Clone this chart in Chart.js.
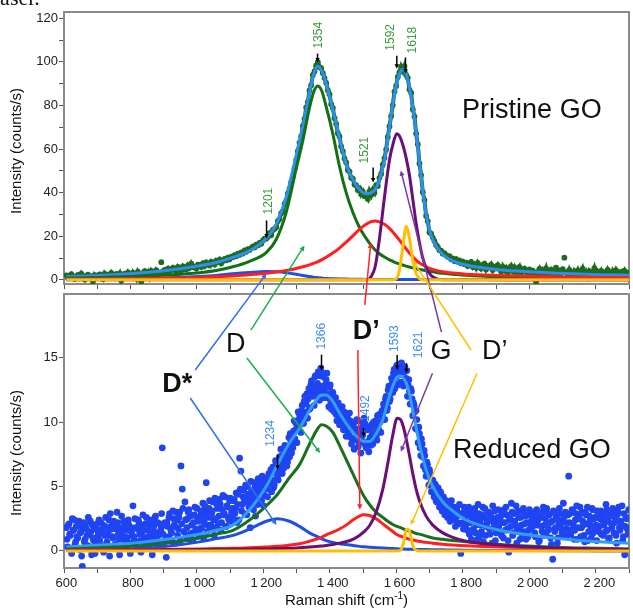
<!DOCTYPE html>
<html>
<head>
<meta charset="utf-8">
<title>Raman spectra, pristine and reduced GO</title>
<script src="https://cdn.jsdelivr.net/npm/chart.js@4.4.1/dist/chart.umd.min.js"></script>
<style>
  html, body { margin: 0; padding: 0; background: #fff; }
  #wrap { position: relative; width: 633px; height: 609px; overflow: hidden; }
  #wrap canvas { position: absolute; left: 0; top: 0; }
</style>
</head>
<body>
<div id="wrap">
  <canvas id="goChart" width="633" height="609"></canvas>
  <canvas id="rgoChart" width="633" height="609"></canvas>
</div>
<script>
// Raman spectra: pristine GO (top panel) and reduced GO (bottom panel)

// measured spectra, one value every goStep / rgoStep cm-1
const goStart = 600, goStep = 5;
const goCounts = [
  2.1, 0.8, 1.9, 2.6, 1.2, 0.4, 1.7, 2.3, 1.0, 2.8, 1.5, 0.2, 1.9, 2.4, 0.9, 1.6, -0.8, 2.2, 1.3, 2.0,
  2.5, 1.1, 0.3, 2.9, 1.8, 2.4, 1.4, 3.2, 2.0, 0.9, 2.6, 1.7, 3.0, -0.3, 2.2, 2.8, 1.6, 3.4, 2.1, 1.2,
  3.3, 2.0, 0.6, 3.8, 2.7, -0.9, 3.1, 4.0, 2.4, 3.6, 1.5, 4.1, 3.0, 2.2, 4.4, 3.5, 2.8, 8.1, 3.9, 4.6,
  4.0, 5.1, 3.6, 4.8, 5.6, 4.4, 3.8, 5.9, 5.0, 4.3, 6.2, 5.3, 4.7, 6.6, 5.5, 7.4, 5.8, 6.1, 5.2, 7.0,
  6.8, 5.9, 7.5, 6.4, 8.0, 7.2, 6.6, 8.4, 7.7, 7.0, 8.8, 8.1, 9.3, 7.6, 8.7, 9.6, 9.0, 10.2, 9.4, 10.6,
  10.4, 11.3, 10.8, 12.0, 11.5, 12.6, 12.1, 13.5, 12.9, 14.1, 13.7, 14.6, 15.4, 14.9, 16.2, 15.8, 17.0, 16.6, 18.1, 18.9,
  18.9, 19.8, 21.4, 20.6, 22.9, 23.4, 24.1, 27.0, 27.9, 30.6, 31.5, 34.8, 36.1, 39.7, 41.8, 44.9, 47.5, 51.2, 55.0, 59.0,
  63.0, 65.8, 70.6, 73.9, 79.1, 81.7, 86.9, 89.3, 94.0, 95.6, 98.4, 99.9, 97.6, 97.1, 94.8, 92.6, 90.4, 87.0, 85.2, 80.6,
  78.9, 74.2, 71.6, 67.3, 65.8, 61.2, 59.0, 55.7, 53.9, 50.4, 49.6, 46.9, 46.4, 43.7, 43.4, 41.2, 42.0, 39.3, 40.5, 38.4,
  38.2, 37.1, 40.6, 38.9, 41.3, 40.0, 43.4, 43.1, 46.8, 48.6, 52.9, 55.9, 59.8, 65.6, 70.4, 75.1, 80.2, 86.4, 89.0, 93.1,
  95.3, 97.8, 96.0, 98.1, 94.0, 92.7, 87.3, 85.9, 78.2, 75.0, 67.1, 62.2, 53.4, 48.1, 40.2, 36.6, 29.3, 26.9, 21.8, 21.2,
  19.4, 17.8, 16.0, 15.1, 13.6, 13.4, 12.0, 12.2, 11.3, 10.6, 10.9, 9.4, 9.8, 8.6, 9.5, 8.3, 8.9, 7.6, 8.4, 7.2,
  7.9, 6.4, 7.5, 8.2, 6.0, 7.1, 5.5, 7.8, 6.6, 5.2, 6.9, 7.4, 4.8, 6.3, 5.7, 7.0, 4.5, 6.0, 5.3, 6.7,
  5.0, 3.8, 6.1, 4.4, 5.5, 3.2, 4.9, 6.3, 4.1, 5.7, 3.5, 4.6, 5.9, 2.8, 4.3, 5.2, 3.9, 1.0, 4.8, 3.4,
  4.2, 2.9, -1.0, 3.6, 5.0, 2.5, 4.4, 3.1, 5.3, 2.2, 3.9, 4.7, 2.7, 3.4, 5.6, 2.0, 4.1, 3.0, 4.9, 10.2,
  3.5, 2.1, 4.6, 2.8, 1.4, 3.9, 2.6, 4.3, 1.8, 3.2, 5.1, 2.4, 3.7, 1.6, 4.0, 2.9, 3.3, 5.4, 2.2, 3.8,
  2.7, 4.1, 1.9, 3.4, 2.5, 4.6, 3.0, 1.7, 3.9, 2.3, 4.4, 2.8, 1.5, 3.6, 2.9, 4.2, 2.0, 3.3, 2.6
];
// reduced GO is noisier: two interleaved runs, starting at 600 and 602
const rgoStartA = 600, rgoStartB = 602, rgoStep = 4;
const rgoCountsA = [
  1.8, 0.3, 2.1, 1.2, -0.2, 1.6, 2.4, 0.7, 1.1, 2.0, 0.1, 1.5, -1.2, 2.2, 0.9, 1.7, 0.4, 1.3, 2.3, -0.3, 1.0, 1.9, 0.6, 2.1, 1.4,
  0.8, 2.2, 1.5, -0.1, 1.9, 0.5, 1.2, 2.4, 2.9, 1.7, 1.0, 2.1, 0.4, 3.0, 1.3, -0.3, 1.8, 0.9, 2.3, 1.1, 0.6, 1.6, 2.0, -0.2, 1.4,
  3.5, 0.9, 1.8, 0.2, 2.4, 1.3, -0.1, 2.0, 1.6, 0.7, 2.6, 1.1, 0.4, 1.9, 2.3, 0.8, 1.5, 2.7, 0.3, 1.2, 2.1, 1.7, 8.0, 0.6, 2.2,
  -0.5, 1.9, 2.6, 0.9, 1.4, 3.1, 2.0, 0.6, 2.4, 1.7, 3.0, 6.6, 4.8, 1.5, 3.8, 1.1, 2.5, 3.2, 1.3, 2.0, 0.9, 2.8, 1.6, 3.3, 2.3,
  1.4, 3.1, 2.6, 1.0, 3.5, 5.3, 2.0, 3.3, 1.7, 2.9, 3.8, 1.2, 2.5, 3.6, 2.1, 4.0, 1.6, 3.2, 2.8, 4.2, 1.9, 3.4, 2.4, 4.1, 3.0,
  2.6, 4.0, 3.3, 2.2, 4.4, 7.2, 6.2, 3.6, 4.7, 2.9, 4.1, 5.0, 3.4, 1.8, 4.6, 3.9, 5.3, 2.7, 4.3, 5.6, 3.8, 4.9, 5.8, 3.5, 5.2,
  5.6, 4.2, 6.0, 5.9, 4.6, 6.5, 5.1, 7.0, 6.2, 5.5, 7.3, 7.9, 6.0, 6.4, 8.2, 7.4, 6.9, 8.8, 9.1, 7.6, 8.0, 10.1, 9.4, 8.4, 10.8,
  10.6, 9.2, 11.3, 9.9, 12.0, 11.4, 10.3, 12.6, 11.1, 13.2, 12.0, 11.3, 13.6, 12.4, 13.9, 11.7, 14.2, 12.8, 13.5, 11.9, 13.3, 12.2, 11.2, 12.9, 11.0,
  12.3, 10.8, 11.9, 10.1, 11.5, 9.8, 10.9, 11.2, 9.4, 10.5, 8.9, 10.3, 9.0, 10.1, 8.3, 9.7, 7.9, 9.5, 10.2, 8.1, 9.3, 7.6, 9.6, 8.4, 9.9,
  8.0, 9.4, 7.7, 8.8, 9.8, 8.3, 9.2, 10.1, 8.6, 9.9, 10.6, 9.2, 10.9, 11.4, 10.2, 12.0, 11.1, 12.8, 11.8, 13.4, 12.3, 14.1, 13.0, 14.4, 12.9,
  14.5, 13.1, 14.0, 12.8, 14.3, 13.4, 12.0, 13.3, 11.4, 12.4, 10.5, 11.3, 9.5, 10.2, 8.4, 9.1, 7.4, 8.3, 6.6, 7.4, 5.8, 6.7, 5.1, 6.0, 4.6,
  5.5, 4.2, 5.1, 3.8, 4.9, 3.4, 4.5, 3.1, 4.2, 2.8, 3.9, 2.6, 3.7, 2.3, 3.9, 2.5, 3.4, 1.9, 3.2, 2.2, 3.6, -0.2, 2.9, 1.7, 3.1,
  2.9, 1.6, 3.4, 2.2, 0.9, 2.7, 3.1, 1.4, 2.5, 3.6, 1.1, 2.0, 2.8, 0.7, 3.3, 1.9, 2.4, 3.0, 1.3, 2.6, 3.5, 1.8, 0.8, 2.3, 3.2,
  1.5, 2.7, 3.0, 1.0, 2.2, 3.4, 1.7, -0.1, 2.5, 3.7, 1.2, 2.9, 2.0, 0.6, 3.1, 1.8, 2.6, 1.3, 3.3, 2.1, 0.9, 2.8, 1.6, 3.0, 2.3,
  1.9, 2.8, 1.1, 3.2, 2.4, 0.8, 2.6, 1.5, 3.4, 2.0, 1.3, 2.9, 1.7, 2.2, 0.5, -0.65, 3.0, 1.8, 2.5, 1.0, 3.3, 2.1, 1.4, 3.7, 2.7,
  2.2, 1.2, 5.8, 2.9, 1.6, 3.1, 0.9, 2.4, 3.5, 1.8, 2.6, 1.1, 3.0, 2.0, 0.7, 2.8, 3.4, 1.5, 2.3, 1.0, 3.2, 2.5, 1.7, 0.8, 2.9,
  1.9, 3.1, 2.4, 1.2, 2.7, 3.6, 1.6, 0.9, 2.8, 2.1, 3.3, 1.4, 2.5, 0.6, 3.0, 1.8, 2.3, 3.5, 1.1, -0.3, 2.6, 1.7, 3.2
];
const rgoCountsB = [
  0.9, 2.0, 1.3, 0.2, 2.5, 1.6, 0.5, 1.9, 1.0, 2.3, 1.4, -0.4, 1.8, 0.7, 2.1, 1.2, 2.6, 0.3, 1.5, 2.0, 0.8, -0.2, 1.7, 1.1, 2.4,
  1.6, 0.4, 2.0, 1.2, 2.6, 0.7, 1.5, -0.4, 1.9, 1.1, 2.3, 0.5, 1.7, 2.2, 0.9, 1.4, 2.7, 0.2, 1.6, 2.0, 1.0, 2.4, 0.6, 1.8, 1.2,
  1.1, 2.5, 0.5, 1.7, 2.2, 0.8, 1.4, 2.8, 1.0, 2.1, 0.3, 1.6, 2.4, 1.2, -0.3, 1.9, 2.6, 1.0, 2.2, 0.6, 1.5, 2.9, 1.3, 2.0, 0.9,
  2.2, 1.1, 2.9, 1.6, 0.7, 2.5, 1.9, 3.0, 1.2, 2.6, 0.8, 2.1, 3.3, 1.5, 2.4, 1.8, 3.0, 0.9, 2.7, 1.4, 2.2, 3.4, 1.7, 2.5, 1.2,
  2.7, 1.8, 3.7, 2.2, 3.0, 1.5, 2.6, 3.9, 2.0, 3.1, 2.4, 4.1, 1.8, 3.3, 2.7, 3.6, 2.2, 4.3, 2.9, 1.9, 3.5, 2.6, 3.9, 2.3, 3.3,
  3.9, 2.9, 4.5, 3.6, 2.4, 4.8, 3.1, 4.2, 3.8, 5.1, 2.8, 4.4, 3.7, 5.4, 4.1, 3.2, 4.9, 4.5, 3.6, 5.2, 4.6, 3.9, 5.5, 4.3, 5.0,
  4.8, 5.7, 5.2, 6.3, 5.5, 4.9, 6.1, 6.8, 5.8, 6.6, 6.1, 7.4, 6.8, 7.0, 7.7, 6.6, 8.0, 7.3, 8.5, 8.3, 9.3, 8.7, 9.9, 9.6, 10.2,
  9.8, 10.9, 10.4, 11.6, 10.8, 12.2, 11.8, 11.0, 12.9, 12.3, 12.7, 13.5, 12.0, 13.0, 12.6, 13.6, 12.3, 13.8, 12.5, 12.9, 13.8, 11.9, 12.7, 11.6, 12.2,
  11.4, 11.9, 10.6, 11.1, 10.4, 10.9, 10.0, 9.7, 10.8, 9.5, 10.0, 9.3, 10.7, 8.8, 9.9, 8.6, 10.0, 8.8, 9.2, 8.5, 10.1, 8.8, 9.0, 10.3, 8.2,
  9.6, 8.5, 9.5, 8.2, 9.0, 10.0, 9.7, 8.9, 10.5, 9.4, 10.0, 10.7, 10.4, 11.2, 11.8, 10.9, 12.5, 11.6, 12.5, 13.0, 13.8, 12.6, 13.5, 13.9, 14.2,
  13.7, 14.6, 13.0, 13.9, 12.9, 14.0, 12.9, 12.4, 12.6, 11.8, 11.5, 10.8, 10.9, 9.4, 9.6, 8.0, 8.7, 7.3, 7.8, 6.3, 6.9, 5.8, 6.3, 5.3, 5.4,
  4.6, 5.2, 3.9, 4.4, 4.0, 4.6, 3.5, 3.9, 3.2, 3.6, 2.9, 3.4, 3.1, 3.5, 2.7, 3.0, 2.4, 3.3, 2.7, 2.1, 2.9, 2.8, 2.2, 3.4, 2.4,
  2.1, 2.8, 1.3, 3.0, 2.4, 1.7, 3.3, 2.0, 0.9, 2.9, 2.3, 1.5, 3.4, 2.6, 1.2, 2.1, 3.0, 1.7, 2.7, 0.6, 2.2, 3.1, 1.4, 2.6, 1.9,
  2.6, 1.2, 2.2, 3.2, 1.6, 2.8, 0.8, 2.4, 1.9, 3.0, 1.4, 2.3, 3.5, 1.7, 2.6, 0.9, 2.0, 3.1, 1.5, 2.7, 2.2, 1.1, 3.2, 1.8, 2.5,
  2.4, 1.4, 3.1, 2.0, 0.7, 2.7, 1.9, 3.0, 1.2, 2.5, 3.3, 1.6, 2.8, 1.0, 2.3, 3.1, 1.5, 2.6, 0.6, 2.1, 2.9, 1.7, 2.4, 1.1, 3.0,
  1.7, 2.8, 2.2, 1.3, 3.2, 2.0, 1.6, 2.9, 0.9, 2.5, 3.4, 1.8, 2.3, 1.2, 3.0, 2.1, 0.8, 2.7, 1.9, 3.3, 1.4, 2.6, 2.0, 3.1, 1.5,
  2.5, 1.3, 2.9, 2.0, 1.5, 3.2, 2.3, 1.0, 2.7, 1.8, 3.0, 2.2, 1.2, 2.8, 3.4, 1.6, 2.1, 0.8, 2.9, 1.9, 2.5, 1.3
];

// fitted curves, pristine GO
const goX = [600, 700, 800, 900, 1000, 1050, 1100, 1150, 1200, 1230,
  1260, 1290, 1310, 1330, 1342, 1354, 1366, 1380, 1400, 1420,
  1440, 1460, 1480, 1500, 1515, 1527, 1540, 1555, 1570, 1580,
  1592, 1600, 1610, 1620, 1630, 1640, 1650, 1660, 1670, 1680,
  1695, 1710, 1730, 1760, 1800, 1900, 2000, 2100, 2200, 2290];
const goFit = [1.5, 2.0, 2.9, 4.3, 6.5, 8.0, 10.3, 13.3, 19, 25.5,
  38, 57, 70.5, 86, 94, 98, 96, 90, 78, 65,
  53, 46, 41.5, 39.5, 40, 41.5, 46, 55, 70, 80.7,
  90.5, 94.5, 96.5, 94.5, 88, 79, 68, 54, 41, 30,
  20.3, 15.5, 11.6, 8.7, 6.8, 4.6, 3.6, 2.9, 2.4, 2.1];
const goD = [0.8, 1.1, 1.5, 2.2, 3.3, 4.3, 6.0, 8.5, 12.5, 18.5,
  31, 51, 64, 79, 86, 89, 87, 79.5, 67, 52,
  40, 31, 24, 19, 15.8, 13.7, 12, 10.5, 9.2, 8.5,
  7.7, 7.3, 6.8, 6.3, 5.9, 5.5, 5.1, 4.8, 4.5, 4.2,
  3.8, 3.4, 3.0, 2.6, 2.1, 1.4, 1.0, 0.8, 0.6, 0.5];
const goDpp = [0.3, 0.4, 0.6, 0.8, 1.1, 1.4, 1.8, 2.3, 3.0, 3.6,
  4.3, 5.2, 6.0, 6.9, 7.6, 8.3, 9.2, 10.4, 12.3, 14.6,
  17.3, 20.2, 23.2, 25.5, 26.7, 27.0, 26.6, 25.5, 23.6, 22.0,
  19.8, 18.2, 16.2, 14.2, 12.3, 10.6, 9.1, 7.8, 6.8, 6.0,
  5.0, 4.3, 3.7, 3.1, 2.6, 2.0, 1.6, 1.3, 1.1, 1.0];
const goG = [0, 0, 0, 0, 0, 0, 0, 0, 0, 0,
  0, 0, 0, 0, 0, 0, 0, 0, 0, 0,
  0, 0, 0, 0, 1.5, 6, 19, 38, 55, 62,
  67, 66, 62, 56, 48, 37, 26, 17, 10, 5.5,
  2, 0.6, 0, 0, 0, 0, 0, 0, 0, 0];
const goDp = [0, 0, 0, 0, 0, 0, 0, 0, 0, 0,
  0, 0, 0, 0, 0, 0, 0, 0, 0, 0,
  0, 0, 0, 0, 0, 0, 0, 0, 0, 0,
  0.8, 4.5, 15, 24.5, 19, 9, 2.8, 0.6, 0, 0,
  0, 0, 0, 0, 0, 0, 0, 0, 0, 0];
const goDs = [0.3, 0.4, 0.6, 0.9, 1.5, 2.0, 2.8, 3.4, 3.8, 3.7,
  3.3, 2.6, 2.0, 1.5, 1.2, 1.0, 0.8, 0.6, 0.5, 0.4,
  0.35, 0.3, 0.25, 0.2, 0.2, 0.2, 0.2, 0.2, 0.2, 0.2,
  0.2, 0.2, 0.2, 0.2, 0.2, 0.2, 0.2, 0.2, 0.2, 0.2,
  0.2, 0.2, 0.2, 0.2, 0.2, 0.1, 0.1, 0.1, 0.1, 0.1];

// fitted curves, reduced GO
const rgoX = [600, 700, 800, 900, 1000, 1050, 1100, 1150, 1200, 1234,
  1270, 1300, 1330, 1350, 1366, 1380, 1400, 1420, 1440, 1460,
  1480, 1492, 1510, 1530, 1550, 1565, 1580, 1593, 1603, 1612,
  1621, 1630, 1640, 1650, 1660, 1680, 1700, 1730, 1760, 1800,
  1900, 2000, 2100, 2200, 2290];
const rgoFit = [0.3, 0.45, 0.6, 0.9, 1.3, 1.6, 2.0, 3.2, 5.0, 6.7,
  8.4, 9.5, 10.9, 11.7, 12.1, 12.1, 11.6, 10.7, 9.9, 9.2,
  8.7, 8.5, 8.5, 9.1, 10.2, 11.6, 12.8, 13.5, 13.6, 13.4,
  13.0, 12.2, 10.9, 9.6, 8.3, 6.3, 5.0, 3.8, 3.1, 2.4,
  1.6, 1.2, 0.9, 0.7, 0.6];
const rgoD = [0.15, 0.25, 0.35, 0.6, 1.0, 1.3, 1.6, 2.4, 3.5, 4.4,
  5.7, 6.7, 8.3, 9.3, 9.8, 9.7, 9.2, 8.2, 7.1, 6.0,
  4.9, 4.3, 3.6, 3.0, 2.6, 2.3, 2.05, 1.9, 1.8, 1.7,
  1.6, 1.55, 1.45, 1.35, 1.3, 1.15, 1.0, 0.9, 0.8, 0.7,
  0.5, 0.35, 0.25, 0.2, 0.15];
const rgoDpp = [0.05, 0.08, 0.1, 0.12, 0.15, 0.18, 0.2, 0.25, 0.3, 0.35,
  0.45, 0.55, 0.75, 0.9, 1.05, 1.25, 1.45, 1.7, 2.0, 2.4,
  2.7, 2.8, 2.75, 2.5, 2.1, 1.8, 1.5, 1.25, 1.15, 1.05,
  0.97, 0.9, 0.84, 0.78, 0.74, 0.66, 0.6, 0.52, 0.46, 0.4,
  0.3, 0.25, 0.2, 0.15, 0.1];
const rgoG = [0.05, 0.05, 0.06, 0.08, 0.1, 0.11, 0.12, 0.14, 0.15, 0.18,
  0.2, 0.25, 0.3, 0.34, 0.38, 0.42, 0.5, 0.6, 0.72, 0.9,
  1.2, 1.45, 1.95, 3.0, 4.8, 6.8, 9.0, 10.3, 10.2, 9.6,
  8.6, 7.4, 6.0, 4.8, 3.9, 2.7, 2.0, 1.4, 1.05, 0.75,
  0.45, 0.3, 0.2, 0.15, 0.1];
const rgoDp = [0, 0, 0, 0, 0, 0, 0, 0, 0, 0,
  0, 0, 0, 0, 0, 0, 0, 0, 0, 0,
  0, 0, 0, 0, 0, 0, 0, 0, 0.05, 0.6,
  1.7, 1.55, 0.4, 0.05, 0, 0, 0, 0, 0, 0,
  0, 0, 0, 0, 0];
const rgoDs = [0.02, 0.08, 0.15, 0.35, 0.7, 0.95, 1.2, 1.7, 2.3, 2.5,
  2.3, 1.9, 1.4, 1.15, 0.95, 0.8, 0.65, 0.55, 0.5, 0.42,
  0.35, 0.32, 0.28, 0.25, 0.22, 0.2, 0.18, 0.16, 0.15, 0.14,
  0.13, 0.12, 0.12, 0.11, 0.1, 0.1, 0.09, 0.08, 0.07, 0.05,
  0.03, 0.02, 0.01, 0, 0];

// labelled ticks on the shared Raman shift axis
const shiftTickLabels = [600, 800, 1000, 1200, 1400, 1600, 1800, 2000, 2200];

// band positions marked with small arrows
const goPeaks = [1201, 1354, 1521, 1592, 1618];
const rgoPeaks = [1234, 1366, 1492, 1593, 1621];

// marker arrow: tip (data y), length, gap to label, label shift (px)
const goPeakMarks = [
  { tip: 19, len: 18, gap: 6, dx: 2 },
  { tip: 99.7, len: 9, gap: 5, dx: 1 },
  { tip: 44.7, len: 15, gap: 4, dx: -8 },
  { tip: 96.9, len: 13, gap: 5, dx: -6 },
  { tip: 94.7, len: 16, gap: 4, dx: 7 }
];
const rgoPeakMarks = [
  { tip: 6.3, len: 15, gap: 8, dx: -7 },
  { tip: 14.0, len: 16, gap: 5, dx: 0 },
  { tip: 8.85, len: 9, gap: 6, dx: 2 },
  { tip: 14.05, len: 15, gap: 3, dx: -2 },
  { tip: 13.8, len: 10, gap: 5, dx: 12 }
];

// band names between the panels; 'g' = pristine GO axes, 'r' = reduced GO axes
const bandLabels = [
  { text: 'D*', bold: true, at: ['r', 888, 12.9] },
  { text: 'D', at: ['r', 1079, 16.0] },
  { text: 'D\u2019', bold: true, at: ['r', 1460, 17.0] },
  { text: 'G', at: ['r', 1693, 15.45] },
  { text: 'D\u2019', at: ['r', 1848, 15.45] }
];
const bandArrows = [
  { color: '#2f6fe6', from: ['r', 987, 14.05], to: ['g', 1201, 2.9] },
  { color: '#2f6fe6', from: ['r', 972, 11.87], to: ['r', 1231, 2.0] },
  { color: '#1fae4e', from: ['r', 1154, 17.15], to: ['g', 1315, 15.8] },
  { color: '#1fae4e', from: ['r', 1142, 14.98], to: ['r', 1362, 7.6] },
  { color: '#ff2424', from: ['r', 1496, 19.1], to: ['g', 1514, 17.1] },
  { color: '#ff2424', from: ['r', 1475, 15.6], to: ['r', 1481, 3.2] },
  { color: '#7a3ea0', from: ['r', 1726, 17.0], to: ['g', 1604, 50.2] },
  { color: '#7a3ea0', from: ['r', 1699, 13.8], to: ['r', 1604, 7.7] },
  { color: '#ffc000', from: ['r', 1815, 15.6], to: ['g', 1640, 8.9] },
  { color: '#ffc000', from: ['r', 1833, 13.8], to: ['r', 1634, 2.0] }
];

Chart.defaults.font.family = "'Liberation Sans', Arial, sans-serif";
Chart.defaults.font.size = 13;
Chart.defaults.color = '#222';

const FONT = "'Liberation Sans', Arial, sans-serif";

function pts(xs, ys) {
  return xs.map((x, i) => ({ x: x, y: ys[i] }));
}
function sampled(start, step, ys) {
  return ys.map((y, i) => ({ x: start + i * step, y: y }));
}
function curve(xs, ys, color) {
  return {
    data: pts(xs, ys), showLine: true, borderColor: color, borderWidth: 3,
    pointRadius: 0, cubicInterpolationMode: 'monotone'
  };
}
function dots(data, color, r) {
  return { data: data, showLine: false, pointRadius: r, pointBorderWidth: 0, pointBackgroundColor: color };
}
function thousands(v) {
  if (v < 1000) return String(v);
  return Math.floor(v / 1000) + '\u2009' + String(v % 1000).padStart(3, '0');
}

function arrow(ctx, x1, y1, x2, y2, color, head) {
  const a = Math.atan2(y2 - y1, x2 - x1);
  ctx.strokeStyle = color;
  ctx.fillStyle = color;
  ctx.lineWidth = 1.5;
  ctx.beginPath();
  ctx.moveTo(x1, y1);
  ctx.lineTo(x2 - Math.cos(a) * head * 0.7, y2 - Math.sin(a) * head * 0.7);
  ctx.stroke();
  ctx.beginPath();
  ctx.moveTo(x2, y2);
  ctx.lineTo(x2 - head * Math.cos(a - 0.45), y2 - head * Math.sin(a - 0.45));
  ctx.lineTo(x2 - head * Math.cos(a + 0.45), y2 - head * Math.sin(a + 0.45));
  ctx.closePath();
  ctx.fill();
}

function scales(o) {
  return {
    x: {
      type: 'linear', min: 593, max: 2289,
      afterFit: s => { s.height = o.xHeight; },
      ticks: { display: false, stepSize: 100, autoSkip: false, includeBounds: false },
      grid: { drawOnChartArea: false, tickLength: 5, tickColor: '#555' },
      border: { display: false }
    },
    y: {
      min: o.yMin, max: o.yMax,
      afterFit: s => { s.width = 64; },
      ticks: {
        stepSize: o.yStep, autoSkip: false, includeBounds: false, padding: 1, color: '#222',
        callback: v => (v % o.yMajor === 0 ? v : '')
      },
      grid: { drawOnChartArea: false, tickLength: 5, tickColor: '#555' },
      border: { display: false }
    }
  };
}

// frame, y title, panel name and band markers of one panel
const panel = {
  id: 'panel',
  beforeDatasetsDraw(chart) {
    const { ctx, chartArea: a } = chart;
    ctx.save();
    ctx.strokeStyle = '#8a8a8a';
    ctx.lineWidth = 2;
    ctx.strokeRect(a.left, a.top, a.right - a.left, a.bottom - a.top);
    ctx.restore();
  },
  afterDraw(chart, args, o) {
    const { ctx } = chart;
    const sx = chart.scales.x, sy = chart.scales.y;
    ctx.save();
    ctx.fillStyle = '#111';
    ctx.font = '15px ' + FONT;
    ctx.textAlign = 'center';
    ctx.textBaseline = 'middle';
    ctx.translate(17, o.titleY);
    ctx.rotate(-Math.PI / 2);
    ctx.fillText('Intensity (counts/s)', 0, 0);
    ctx.restore();

    ctx.save();
    ctx.fillStyle = '#111';
    ctx.font = '27px ' + FONT;
    ctx.textBaseline = 'middle';
    ctx.fillText(o.name.text, sx.getPixelForValue(o.name.x), sy.getPixelForValue(o.name.y));
    ctx.restore();

    o.peaks.forEach((p, i) => {
      const m = o.marks[i];
      const x = sx.getPixelForValue(p);
      const tip = sy.getPixelForValue(m.tip);
      ctx.save();
      arrow(ctx, x, tip - m.len, x, tip, '#000', 5);
      ctx.fillStyle = o.labelColor;
      ctx.font = '12px ' + FONT;
      ctx.textAlign = 'left';
      ctx.textBaseline = 'middle';
      ctx.translate(x + m.dx, tip - m.len - m.gap);
      ctx.rotate(-Math.PI / 2);
      ctx.fillText(String(p), 0, 0);
      ctx.restore();
    });

    if (o.extra) o.extra(chart);
  }
};

// big jumps between noisy low points are not joined
const hideJumps = c => {
  const a = c.p0.parsed.y, b = c.p1.parsed.y;
  return Math.abs(b - a) > 3.5 && Math.min(a, b) < 12 ? 'rgba(0,0,0,0)' : undefined;
};

const goChart = new Chart(document.getElementById('goChart'), {
  type: 'scatter',
  data: {
    datasets: [
      curve(goX, goDp, '#ffbf00'),
      curve(goX, goG, '#6b0f78'),
      curve(goX, goDpp, '#ff1f1f'),
      curve(goX, goDs, '#1d4fe6'),
      curve(goX, goD, '#147014'),
      curve(goX, goFit, '#2b8ef0'),
      {
        data: sampled(goStart, goStep, goCounts), showLine: true,
        borderColor: '#1d6d1d', borderWidth: 4, segment: { borderColor: hideJumps },
        pointRadius: 2.9, pointBorderWidth: 0, pointBackgroundColor: '#1d6d1d'
      }
    ]
  },
  options: {
    responsive: false,
    animation: false,
    layout: { padding: { top: 12, right: 0, bottom: 0, left: 0 } },
    scales: scales({ xHeight: 609 - 284, yMin: -1.9, yMax: 122.9, yStep: 10, yMajor: 20 }),
    plugins: {
      legend: { display: false },
      tooltip: { enabled: false },
      panel: {
        titleY: 151,
        name: { text: 'Pristine GO', x: 1788, y: 77.7 },
        peaks: goPeaks, marks: goPeakMarks, labelColor: '#3a9b3a',
        extra: chart => {
          const ctx = chart.ctx;
          ctx.save();
          ctx.fillStyle = '#111';
          ctx.font = "22px 'Liberation Serif', 'Times New Roman', serif";
          ctx.textBaseline = 'alphabetic';
          ctx.fillText('laser.', -6, 5);
          ctx.restore();
        }
      }
    }
  },
  plugins: [panel]
});

new Chart(document.getElementById('rgoChart'), {
  type: 'scatter',
  data: {
    datasets: [
      curve(rgoX, rgoDp, '#ffbf00'),
      curve(rgoX, rgoG, '#6b0f78'),
      curve(rgoX, rgoDpp, '#ff1f1f'),
      curve(rgoX, rgoDs, '#1d4fe6'),
      curve(rgoX, rgoD, '#1b6e1b'),
      curve(rgoX, rgoFit, '#2f9ff0'),
      dots(sampled(rgoStartA, rgoStep, rgoCountsA), '#1f44f2', 3.4),
      dots(sampled(rgoStartB, rgoStep, rgoCountsB), '#1f44f2', 3.4)
    ]
  },
  options: {
    responsive: false,
    animation: false,
    layout: { padding: { top: 294, right: 0, bottom: 0, left: 0 } },
    scales: scales({ xHeight: 41, yMin: -1.33, yMax: 19.95, yStep: 5, yMajor: 5 }),
    plugins: {
      legend: { display: false },
      tooltip: { enabled: false },
      panel: {
        titleY: 453,
        name: { text: 'Reduced GO', x: 1761, y: 7.83 },
        peaks: rgoPeaks, marks: rgoPeakMarks, labelColor: '#3b8ff0',
        extra: chart => {
          const ctx = chart.ctx;
          const a = chart.chartArea;
          const sx = chart.scales.x;
          const axes = { g: goChart.scales, r: chart.scales };
          const px = p => [axes[p[0]].x.getPixelForValue(p[1]), axes[p[0]].y.getPixelForValue(p[2])];

          // tick labels of the Raman shift axis
          ctx.save();
          ctx.fillStyle = '#222';
          ctx.font = '13px ' + FONT;
          ctx.textAlign = 'center';
          ctx.textBaseline = 'middle';
          shiftTickLabels.forEach(v => {
            ctx.fillText(thousands(v), sx.getPixelForValue(v), a.bottom + 15);
          });
          ctx.restore();

          // x axis title with superscript
          ctx.save();
          ctx.fillStyle = '#111';
          ctx.textAlign = 'left';
          ctx.textBaseline = 'middle';
          ctx.font = '15px ' + FONT;
          const t1 = 'Raman shift (cm', t3 = ')';
          const w1 = ctx.measureText(t1).width, w3 = ctx.measureText(t3).width;
          ctx.font = '10px ' + FONT;
          const w2 = ctx.measureText('-1').width;
          const x0 = (a.left + a.right) / 2 - (w1 + w2 + w3) / 2;
          ctx.font = '15px ' + FONT;
          ctx.fillText(t1, x0, 601);
          ctx.font = '10px ' + FONT;
          ctx.fillText('-1', x0 + w1, 596);
          ctx.font = '15px ' + FONT;
          ctx.fillText(t3, x0 + w1 + w2, 601);
          ctx.restore();

          bandArrows.forEach(b => {
            const p1 = px(b.from), p2 = px(b.to);
            ctx.save();
            arrow(ctx, p1[0], p1[1], p2[0], p2[1], b.color, 6);
            ctx.restore();
          });
          bandLabels.forEach(l => {
            const p = px(l.at);
            ctx.save();
            ctx.fillStyle = '#111';
            ctx.font = (l.bold ? 'bold ' : '') + '27px ' + FONT;
            ctx.textBaseline = 'middle';
            ctx.fillText(l.text, p[0], p[1]);
            ctx.restore();
          });
        }
      }
    }
  },
  plugins: [panel]
});
</script>
</body>
</html>
